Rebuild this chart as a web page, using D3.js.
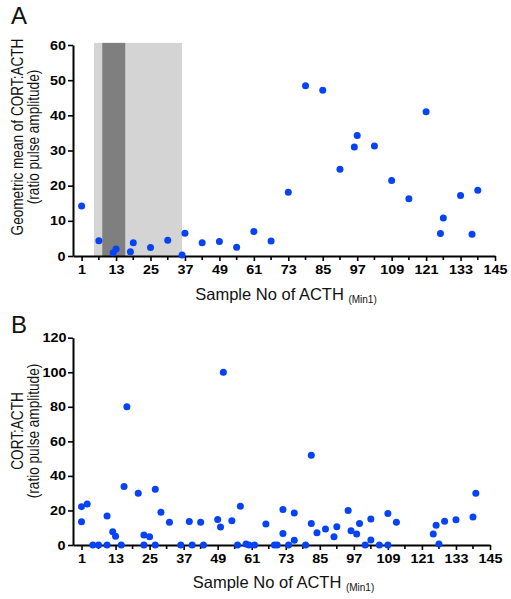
<!DOCTYPE html>
<html><head><meta charset="utf-8">
<script src="https://cdn.jsdelivr.net/npm/d3@7"></script>
<style>body{margin:0;background:#fff}svg{display:block}text{font-family:"Liberation Sans",Arial,sans-serif}
.tick text{transform-box:fill-box;transform-origin:center;transform:scaleX(1.15)}</style>
</head><body>
<script>
// Panel A data: sample number, geometric mean ratio
const aSample = [1,7,12,13,18,19,25,31,36,37,43,49,55,61,67,73,79,85,91,96,97,103,109,115,121,126,127,133,137,139];
const aValue  = [14.2,4.35,0.95,2.0,1.2,3.8,2.4,4.5,0.3,6.5,3.8,4.1,2.5,7.0,4.3,18.1,48.4,47.1,24.7,31.0,34.3,31.3,21.5,16.3,41.0,6.4,10.8,17.2,6.2,18.7];
// Shaded ranges (sample numbers)
const shadeLight = [5.3, 36];
const shadeDark = [8.2, 16.2];
// Panel B data
const bSample = [1,1,3,5,7,10,10,12,13,15,16,17,21,23,23,25,27,27,29,32,36,39,40,43,44,49,50,51,54,56,57,59,60,62,66,69,70,72,72,74,76,76,80,82,82,84,87,90,91,95,96,98,99,101,103,103,106,109,109,112,125,126,127,129,133,139,140];
const bValue  = [22.2,13.5,23.7,0,0,16.8,0,7.7,5.0,0,33.8,80,29.9,5.8,0,4.8,32.2,0,18.9,13.1,0,13.6,0,13.1,0,14.7,10.4,100,14.1,0,22.4,0.6,0,0,12.2,0,0,20.5,6.6,0,18.5,2.7,0,52,12.5,7.1,9.3,4.8,10.6,20,8.3,6.3,12.4,0,15.1,2.9,0,18.3,0,13.1,6.4,11.4,0.6,13.8,14.6,16.2,30];
const xTicks = [1,13,25,37,49,61,73,85,97,109,121,133,145];
const xMinor = [7,19,31,43,55,67,79,91,103,115,127,139];
const yTicksA = [0,10,20,30,40,50,60];
const yTicksB = [0,20,40,60,80,100,120];

const W = 511, H = 599;
const dotColor = "#0543f5";
const svg = d3.select("body").append("svg").attr("width", W).attr("height", H);

function panel(opts) {
  const g = svg.append("g");
  const x = d3.scaleLinear().domain([-2,145]).range(opts.xr);
  const y = d3.scaleLinear().domain(opts.yd).range(opts.yr);
  if (opts.shade) {
    g.append("rect").attr("x", x(shadeLight[0])).attr("width", x(shadeLight[1]) - x(shadeLight[0]))
      .attr("y", y(opts.shadeTop)).attr("height", y(0) - y(opts.shadeTop)).attr("fill", "#d4d4d4");
    g.append("rect").attr("x", x(shadeDark[0])).attr("width", x(shadeDark[1]) - x(shadeDark[0]))
      .attr("y", y(opts.shadeTop)).attr("height", y(0) - y(opts.shadeTop)).attr("fill", "#7f7f7f");
  }
  // x axis
  const xa = g.append("g").attr("transform", `translate(0,${y(0)})`)
    .call(d3.axisBottom(x).tickValues(xTicks).tickSize(5).tickPadding(4).tickSizeOuter(0));
  xa.append("g").selectAll("line").data(xMinor).join("line")
    .attr("x1", d => x(d)).attr("x2", d => x(d)).attr("y1", 0).attr("y2", 4).attr("stroke", "#000").attr("stroke-width", 1.6);
  // y axis
  const ya = g.append("g").attr("transform", `translate(${x(-2)},0)`)
    .call(d3.axisLeft(y).tickValues(opts.yt).tickSize(5).tickPadding(3).tickSizeOuter(0));
  [xa, ya].forEach(a => {
    a.select(".domain").attr("stroke", "#000").attr("stroke-width", 2);
    a.selectAll(".tick line").attr("stroke", "#000").attr("stroke-width", 1.6);
    a.selectAll(".tick text").attr("fill", "#000").attr("font-size", 12.5).attr("font-weight", "bold")
      .attr("font-family", "'Liberation Sans',Arial,sans-serif");
  });
  // points
  g.append("g").selectAll("circle").data(opts.xs.map((d, i) => [d, opts.vs[i]])).join("circle")
    .attr("cx", d => x(d[0])).attr("cy", d => y(d[1])).attr("r", 3.5).attr("fill", dotColor);
  // x label
  const xl = g.append("text").attr("x", (opts.xr[0] + opts.xr[1]) / 2 + 2).attr("y", y(0) + opts.xlOff)
    .attr("text-anchor", "middle").attr("font-size", 16.5).attr("fill", "#111");
  xl.append("tspan").text("Sample No of ACTH ");
  xl.append("tspan").attr("font-size", 10).attr("dy", 3).text("(Min1)");
  // y label (slightly stretched across the baseline like the reference)
  const sy = 1.22;
  const yl = g.append("text").attr("transform", `translate(0,${opts.ylc}) rotate(-90) scale(1,${sy})`)
    .attr("text-anchor", "middle").attr("font-size", 13.6).attr("fill", "#111");
  yl.append("tspan").attr("x", 0).attr("y", 23 / sy).text(opts.yl1);
  yl.append("tspan").attr("x", 0).attr("y", 39.5 / sy).text("(ratio pulse amplitude)");
  // panel letter
  g.append("text").attr("x", 11).attr("y", opts.letterY).attr("font-size", 24).attr("fill", "#111").text(opts.letter);
}

panel({xr:[73,495], yd:[0,60], yr:[256,45], yt:yTicksA, shade:true, shadeTop:60.6,
  xs:aSample, vs:aValue, xlOff:44, ylc:137, yl1:"Geometric mean of CORT:ACTH", letter:"A", letterY:24});
panel({xr:[73,490], yd:[0,120], yr:[545,337.7], yt:yTicksB, shade:false,
  xs:bSample, vs:bValue, xlOff:43, ylc:431, yl1:"CORT:ACTH", letter:"B", letterY:333});
</script>
</body></html>
